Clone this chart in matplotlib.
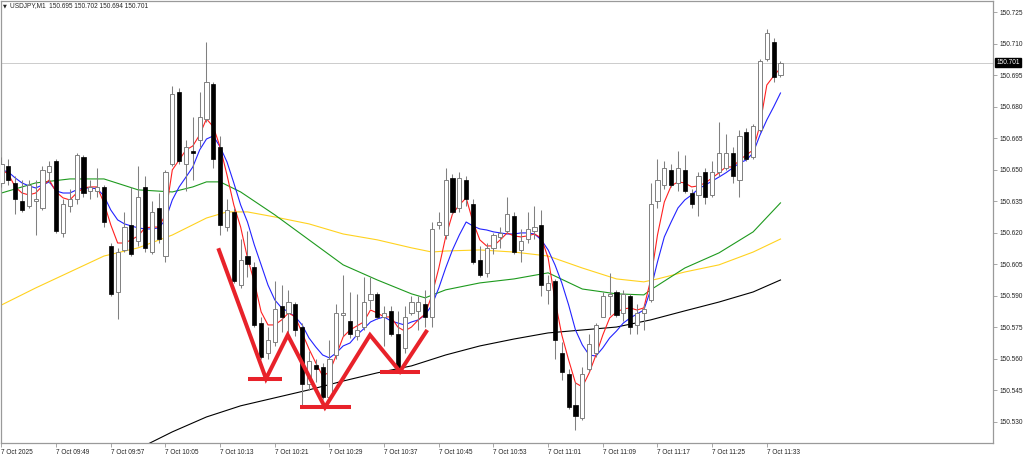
import matplotlib
matplotlib.use("Agg")
import matplotlib.pyplot as plt
import numpy as np

plt.rcParams['font.family'] = ['Liberation Sans', 'DejaVu Sans']

# ---------------- data (1-minute USDJPY candles, 09:41 .. 11:35) ----------------
opens = [150.644,150.652,150.644,150.635,150.633,150.635,150.632,150.649,150.654,150.620,
         150.633,150.636,150.656,150.640,150.640,150.642,150.614,150.592,150.612,150.624,
         150.616,150.642,150.611,150.632,150.609,150.653,150.687,150.653,150.659,150.664,
         150.674,150.691,150.661,150.623,150.630,150.595,150.609,150.604,150.577,150.563,
         150.568,150.585,150.582,150.586,150.575,150.548,150.557,150.556,150.542,150.562,
         150.581,150.578,150.571,150.575,150.588,150.591,150.580,150.583,150.572,150.565,
         150.582,150.583,150.586,150.580,150.624,150.619,150.646,150.632,150.645,150.634,
         150.607,150.601,150.613,150.618,150.621,150.628,150.612,150.617,150.621,150.624,
         150.593,150.597,150.563,150.553,150.538,150.532,150.555,150.563,150.580,150.590,
         150.592,150.582,150.590,150.576,150.582,150.588,150.635,150.643,150.650,150.644,
         150.650,150.639,150.638,150.649,150.638,150.649,150.651,150.658,150.645,150.668,
         150.656,150.669,150.703,150.711,150.695]
highs = [150.656,150.655,150.647,150.645,150.645,150.645,150.652,150.654,150.655,150.636,
         150.641,150.658,150.657,150.645,150.651,150.643,150.615,150.613,150.630,150.642,
         150.652,150.647,150.635,150.639,150.650,150.690,150.689,150.664,150.675,150.687,
         150.711,150.692,150.666,150.636,150.632,150.617,150.621,150.606,150.580,150.575,
         150.597,150.595,150.593,150.587,150.577,150.564,150.560,150.558,150.569,150.586,
         150.600,150.592,150.591,150.599,150.599,150.592,150.585,150.585,150.583,150.585,
         150.590,150.590,150.593,150.625,150.630,150.651,150.648,150.649,150.647,150.636,
         150.614,150.615,150.620,150.623,150.637,150.630,150.622,150.630,150.633,150.631,
         150.600,150.598,150.568,150.555,150.549,150.556,150.572,150.577,150.592,150.601,
         150.593,150.593,150.591,150.586,150.586,150.644,150.655,150.654,150.653,150.659,
         150.657,150.641,150.649,150.651,150.654,150.673,150.667,150.661,150.669,150.670,
         150.672,150.703,150.717,150.713,150.702]
lows = [150.642,150.643,150.629,150.630,150.632,150.619,150.631,150.644,150.620,150.618,
        150.630,150.634,150.637,150.636,150.637,150.623,150.590,150.579,150.611,150.609,
        150.614,150.611,150.610,150.615,150.606,150.652,150.653,150.640,150.645,150.661,
        150.673,150.651,150.619,150.621,150.596,150.594,150.599,150.575,150.560,150.560,
        150.566,150.573,150.572,150.571,150.538,150.545,150.549,150.541,150.541,150.560,
        150.571,150.570,150.569,150.574,150.584,150.579,150.566,150.571,150.554,150.563,
        150.581,150.574,150.575,150.575,150.622,150.617,150.629,150.630,150.633,150.605,
        150.599,150.599,150.610,150.613,150.620,150.610,150.606,150.615,150.617,150.590,
        150.586,150.560,150.550,150.536,150.526,150.531,150.554,150.561,150.580,150.581,
        150.580,150.578,150.572,150.572,150.574,150.587,150.632,150.641,150.642,150.640,
        150.639,150.632,150.628,150.634,150.637,150.647,150.650,150.644,150.637,150.654,
        150.655,150.668,150.702,150.692,150.694]
closes = [150.653,150.645,150.636,150.631,150.643,150.636,150.650,150.652,150.621,150.634,
          150.636,150.657,150.639,150.642,150.642,150.625,150.591,150.611,150.623,150.610,
          150.637,150.613,150.630,150.617,150.649,150.686,150.654,150.661,150.658,150.675,
          150.692,150.655,150.624,150.631,150.597,150.607,150.605,150.576,150.561,150.569,
          150.584,150.580,150.587,150.574,150.548,150.559,150.555,150.542,150.560,150.582,
          150.582,150.572,150.574,150.587,150.591,150.580,150.582,150.572,150.555,150.580,
          150.587,150.587,150.580,150.622,150.625,150.645,150.630,150.646,150.636,150.606,
          150.600,150.613,150.619,150.620,150.629,150.611,150.616,150.622,150.623,150.595,
          150.596,150.569,150.554,150.537,150.533,150.553,150.567,150.576,150.590,150.591,
          150.581,150.591,150.575,150.582,150.584,150.634,150.645,150.651,150.643,150.651,
          150.640,150.634,150.647,150.637,150.649,150.658,150.658,150.647,150.666,150.655,
          150.671,150.702,150.715,150.694,150.701]

# fast moving averages, one value per bar
ma_red = [150.6500,150.6481,150.6419,150.6390,150.6381,150.6390,150.6424,150.6452,150.6395,150.6367,
          150.6357,150.6390,150.6414,150.6419,150.6419,150.6343,150.6238,150.6152,150.6152,150.6167,
          150.6186,150.6224,150.6228,150.6228,150.6286,150.6500,150.6547,150.6595,150.6614,150.6667,
          150.6743,150.6705,150.6609,150.6476,150.6333,150.6228,150.6081,150.5967,150.5824,150.5762,
          150.5762,150.5786,150.5819,150.5800,150.5724,150.5648,150.5581,150.5519,150.5538,150.5619,
          150.5705,150.5738,150.5757,150.5776,150.5833,150.5819,150.5800,150.5800,150.5752,150.5733,
          150.5752,150.5786,150.5814,150.5905,150.6033,150.6181,150.6290,150.6333,150.6367,150.6252,
          150.6167,150.6138,150.6138,150.6167,150.6200,150.6186,150.6181,150.6186,150.6195,150.6176,
          150.6081,150.5881,150.5714,150.5595,150.5486,150.5467,150.5533,150.5619,150.5714,150.5795,
          150.5824,150.5838,150.5843,150.5833,150.5843,150.5976,150.6190,150.6347,150.6424,150.6443,
          150.6438,150.6419,150.6424,150.6438,150.6462,150.6486,150.6514,150.6514,150.6547,150.6571,
          150.6595,150.6714,150.6904,150.6947,150.6985]
ma_blue = [150.6500,150.6490,150.6462,150.6438,150.6424,150.6414,150.6428,150.6443,150.6400,150.6390,
           150.6390,150.6405,150.6414,150.6414,150.6410,150.6376,150.6309,150.6262,150.6243,150.6233,
           150.6224,150.6219,150.6219,150.6224,150.6262,150.6357,150.6419,150.6466,150.6514,150.6595,
           150.6647,150.6662,150.6609,150.6538,150.6438,150.6333,150.6252,150.6143,150.6048,150.5952,
           150.5881,150.5843,150.5824,150.5800,150.5762,150.5700,150.5657,150.5619,150.5605,150.5629,
           150.5662,150.5676,150.5714,150.5743,150.5776,150.5791,150.5800,150.5781,150.5771,150.5762,
           150.5776,150.5786,150.5810,150.5857,150.5938,150.6033,150.6119,150.6190,150.6252,150.6233,
           150.6219,150.6214,150.6205,150.6200,150.6195,150.6195,150.6200,150.6200,150.6195,150.6167,
           150.6119,150.6048,150.5962,150.5857,150.5738,150.5667,150.5619,150.5614,150.5653,150.5700,
           150.5733,150.5771,150.5795,150.5814,150.5833,150.5929,150.6062,150.6181,150.6252,150.6319,
           150.6357,150.6381,150.6410,150.6428,150.6447,150.6466,150.6486,150.6509,150.6533,150.6547,
           150.6581,150.6666,150.6738,150.6800,150.6866]

# slow moving averages, read at selected bars
green_bars = [0, 5, 10, 15, 20, 25, 28, 30, 32, 35, 40, 45, 50, 55, 60, 62, 65, 70, 75, 80,
              85, 90, 94, 95, 100, 105, 110, 114]
ma_green = [150.6390,150.6438,150.6457,150.6457,150.6405,150.6395,150.6419,150.6443,150.6443,150.6395,
            150.6286,150.6167,150.6048,150.5976,150.5910,150.5891,150.5929,150.5962,150.5981,150.6010,
            150.5933,150.5910,150.5905,150.5929,150.6033,150.6105,150.6205,150.6343]
yellow_bars = [0, 5, 10, 15, 20, 25, 30, 33, 36, 40, 45, 50, 55, 60, 63, 65, 70, 75, 80, 85,
               90, 94, 96, 100, 105, 110, 114]
ma_yellow = [150.5857,150.5938,150.6014,150.6090,150.6129,150.6190,150.6271,150.6300,150.6300,150.6276,
             150.6243,150.6195,150.6167,150.6129,150.6109,150.6114,150.6119,150.6109,150.6090,150.6033,
             150.5981,150.5967,150.5981,150.6014,150.6048,150.6109,150.6171]
black_bars = [20, 25, 30, 35, 40, 45, 50, 55, 60, 65, 70, 75, 80, 85, 90, 95, 100, 105, 110, 114]
ma_black = [150.5172,150.5253,150.5324,150.5377,150.5415,150.5453,150.5495,150.5534,150.5567,150.5619,
            150.5662,150.5695,150.5724,150.5738,150.5752,150.5786,150.5829,150.5871,150.5919,150.5976]

# hand-drawn zigzag annotation (bar index, price)
zig_bars = [31.73, 38.71, 41.89, 47.34, 53.93, 58.32, 62.31]
zig_prices = [150.6127, 150.5506, 150.5714, 150.5370, 150.5714, 150.5540, 150.5738]
base_starts = [36.07, 43.69, 55.40]
base_ends = [41.05, 51.15, 61.25]
base_prices = [150.5506, 150.5370, 150.5540]

time_labels = ["7 Oct 2025", "7 Oct 09:49", "7 Oct 09:57", "7 Oct 10:05", "7 Oct 10:13",
               "7 Oct 10:21", "7 Oct 10:29", "7 Oct 10:37", "7 Oct 10:45", "7 Oct 10:53",
               "7 Oct 11:01", "7 Oct 11:09", "7 Oct 11:17", "7 Oct 11:25", "7 Oct 11:33"]
price_ticks = [150.530, 150.545, 150.560, 150.575, 150.590, 150.605, 150.620, 150.635,
               150.650, 150.665, 150.680, 150.695, 150.710, 150.725]
last_price = 150.701
header = "USDJPY,M1  150.695 150.702 150.694 150.701"

# ---------------- drawing ----------------
O = np.array(opens); H = np.array(highs); L = np.array(lows); C = np.array(closes)
n = len(O)
x = np.arange(n)

fig = plt.figure(figsize=(10.24, 4.55), dpi=100)
W, Hh = 1024, 455
ax = fig.add_axes([1 / W, 12 / Hh, 992 / W, 442 / Hh])
ax.set_xlim(-0.07, 145.1)
ax.set_ylim(150.5200, 150.7304)

FS = 4.7
frame_col = '#9a9a9a'
for s in ax.spines.values():
    s.set_color(frame_col)
    s.set_linewidth(0.9)

# current price line
ax.axhline(last_price, color='#cccccc', lw=0.7, zorder=1)

# moving averages (below candles)
ax.plot(black_bars, ma_black, color='#000000', lw=0.8, zorder=2)
ax.plot(yellow_bars, ma_yellow, color='#ffd21f', lw=0.8, zorder=2)
ax.plot(green_bars, ma_green, color='#1e9a1e', lw=0.8, zorder=2)
ax.plot(x, ma_blue, color='#2323ff', lw=0.8, zorder=2)
ax.plot(x, ma_red, color='#ff2020', lw=0.8, zorder=2)

# candles
up = C >= O
ax.vlines(x, L, H, color='#808080', lw=0.75, zorder=3)
ax.bar(x[up], (C - O)[up], bottom=O[up], width=0.62, facecolor='white',
       edgecolor='#808080', linewidth=0.7, zorder=4)
ax.bar(x[~up], (O - C)[~up], bottom=C[~up], width=0.62, facecolor='black',
       edgecolor='black', linewidth=0.5, zorder=4)

# zigzag annotation
ann_col = '#e8222a'
ax.plot(zig_bars, zig_prices, color=ann_col, lw=2.9, solid_joinstyle='miter',
        solid_capstyle='butt', zorder=6)
ax.hlines(base_prices, base_starts, base_ends, color=ann_col, lw=2.9, zorder=6)

# axes ticks
ax.yaxis.tick_right()
ax.set_yticks(price_ticks)
ax.set_yticklabels([f"{v:.3f}" for v in price_ticks])
ax.set_xticks(np.arange(0, 113, 8))
ax.set_xticklabels(time_labels, ha='left')
ax.tick_params(axis='both', colors=frame_col, labelcolor='#222222', labelsize=FS,
               length=3, width=0.6, direction='out')
ax.tick_params(axis='x', pad=1.0)
ax.tick_params(axis='y', pad=1.5)

# last price tag
ax.annotate(f"{last_price:.3f}", xy=(1.0, last_price), xycoords=('axes fraction', 'data'),
            xytext=(2.5, 0), textcoords='offset points', ha='left', va='center',
            fontsize=FS, color='white',
            bbox=dict(boxstyle='square,pad=0.15', facecolor='black', edgecolor='black'),
            zorder=10, annotation_clip=False)

# header
fig.text(3 / W, 1 - 5.5 / Hh, "\u25BC", fontsize=3.6, color='#222222', va='center', ha='left',
         family=['DejaVu Sans'])
fig.text(10 / W, 1 - 5.5 / Hh, header, fontsize=FS, color='#222222', va='center', ha='left')

fig.savefig("out.png", dpi=100, facecolor='white')
